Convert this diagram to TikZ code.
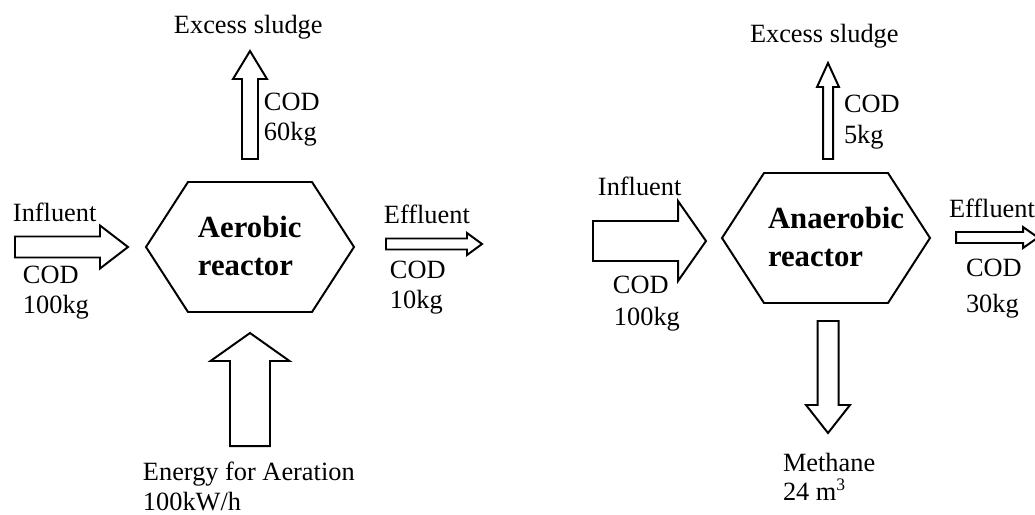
\documentclass[tikz,border=0pt]{standalone}
\usepackage{fontspec}
\setmainfont{Liberation Serif}
\begin{document}
\begin{tikzpicture}
  [x=0.016cm,y=-0.016cm,line width=0.9pt,
   every node/.style={inner sep=0pt,anchor=base west,font=\fontsize{12}{14}\selectfont},
   reactor/.style={font=\fontsize{14}{17}\selectfont\bfseries}]
  \useasboundingbox (0,0) rectangle (1035,514);
  \clip (0,0) rectangle (1035,514);
  % reactors
  \draw (146,247) -- (188,182) -- (312,182) -- (354,247) -- (312,312) -- (188,312) -- cycle;
  \draw (722,238) -- (764,173) -- (888,173) -- (930,238) -- (888,303) -- (764,303) -- cycle;
  \node (aer1)[reactor] at (197,237) {Aerobic};
  \node (aer2)[reactor] at (197,275) {reactor};
  \node (ana1)[reactor] at (767,228) {Anaerobic};
  \node (ana2)[reactor] at (767,266) {reactor};
  % block arrows: tip x/tip y/turn/length/shaft/head/head length
  \foreach \x/\y/\r/\l/\s/\h/\k in {250/51/90/108/8/17/28,128/247/0/113/10.5/21.5/28,
      482/244/0/96/5.5/11/15,250/333/90/113/20/39.5/28,828/63/90/96/5/11/24,
      706/241/0/113/20/40/28,1038/237.5/0/82/5.5/10.5/15,828/433/-90/112/10.5/22/28}
    \draw[shift={(\x,\y)},rotate=\r] (0,0) -- (-\k,\h) -- (-\k,\s) -- (-\l,\s)
      -- (-\l,-\s) -- (-\k,-\s) -- (-\k,-\h) -- cycle;
  % aerobic labels
  \node (aersl) at (173,33) {Excess sludge};
  \node (aersc) at (263,110) {COD};
  \node (aersv) at (263,140) {60kg};
  \node (aerin) at (12,221) {Influent};
  \node (aeric) at (22,283) {COD};
  \node (aeriv) at (22,313) {100kg};
  \node (aeref) at (383,223) {Effluent};
  \node (aerec) at (389,278) {COD};
  \node (aerev) at (389,308) {10kg};
  \node (aeren) at (142,480) {Energy for Aeration};
  \node (aerkw) at (142,510) {100kW/h};
  % anaerobic labels
  \node (anasl) at (749,42) {Excess sludge};
  \node (anasc) at (843,112) {COD};
  \node (anasv) at (843,143) {5kg};
  \node (anain) at (597,195) {Influent};
  \node (anaic) at (612,293) {COD};
  \node (anaiv) at (613,325) {100kg};
  \node (anaef) at (948,217) {Effluent};
  \node (anaec) at (965,276) {COD};
  \node (anaev) at (965,312) {30kg};
  \node (anamt) at (782,471) {Methane};
  \node (anavo) at (782,500) {24 m\textsuperscript{3}};
\end{tikzpicture}
\end{document}
